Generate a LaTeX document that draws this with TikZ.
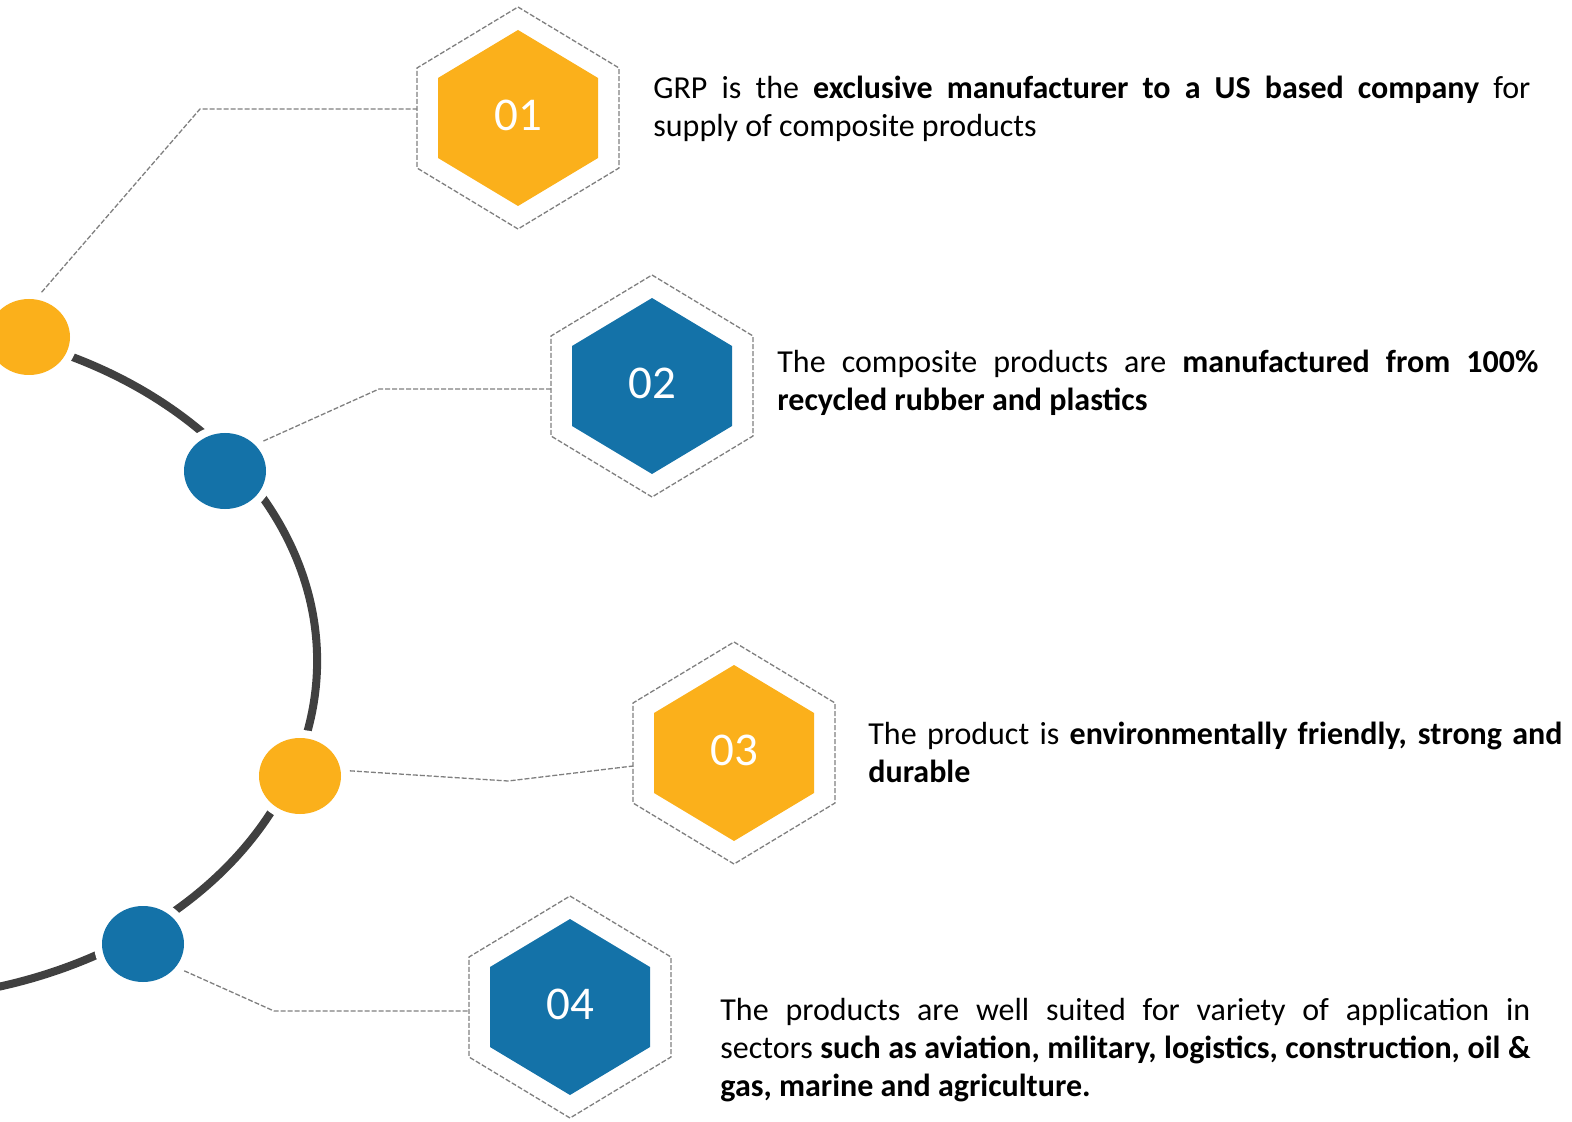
\documentclass[tikz,border=0pt]{standalone}
\usepackage{fontspec}
\setmainfont{Carlito}
\usetikzlibrary{shapes.geometric}

\definecolor{gold}{HTML}{FBB01B}
\definecolor{ocean}{HTML}{1472A8}
\definecolor{track}{HTML}{404040}
\definecolor{guide}{HTML}{7F7F7F}

\begin{document}
\begin{tikzpicture}[x=0.5pt,y=-0.5pt,
  dot/.style={ellipse, inner sep=0pt, minimum width=41pt, minimum height=38pt,
    fill=#1, preaction={draw=white, line width=8pt}},
  leader/.style={draw=guide, line width=0.65pt, dash pattern=on 2.5pt off 1pt, shorten <=4.5pt},
  numtext/.style={inner sep=0pt, text=white, font=\fontsize{23.5pt}{28pt}\selectfont},
  note/.style={anchor=north west, inner sep=0pt, align=justify,
    font=\fontsize{16pt}{19pt}\selectfont}]
\useasboundingbox (0,0) rectangle (1572,1122);

% the bent track
\draw[track, line width=4pt] (-120,661) ++(-72:437 and 338.5) arc[start angle=-72, end angle=82, x radius=437, y radius=338.5];

% dots on the track
\node[dot=gold]  (c1) at (29,337) {};
\node[dot=ocean] (c2) at (225,471) {};
\node[dot=gold]  (c3) at (300,776) {};
\node[dot=ocean] (c4) at (143,944) {};

% numbered hexagons
\foreach \nm/\px/\py/\col in {01/518/118/gold, 02/652/386/ocean, 03/734/753/gold, 04/570/1007/ocean}{
  \draw[draw=guide, line width=0.65pt, dash pattern=on 2.5pt off 1pt] (\px,\py-111) -- (\px+101,\py-50) -- (\px+101,\py+50) -- (\px,\py+111) -- (\px-101,\py+50) -- (\px-101,\py-50) -- cycle;
  \fill[\col] (\px,\py-88) -- (\px+80,\py-40) -- (\px+80,\py+40) -- (\px,\py+88) -- (\px-80,\py+40) -- (\px-80,\py-40) -- cycle;
  \node[numtext] (h\nm) at (\px,\py-3) {\nm};
}

% leaders
\coordinate (k1) at (200,109);
\coordinate (e1) at (417,109);
\coordinate (k2) at (379,389);
\coordinate (e2) at (551,389);
\coordinate (k3) at (508,781);
\coordinate (e3) at (633,766);
\coordinate (k4) at (274,1011);
\coordinate (e4) at (469,1011);
\draw[leader] (c1.80) -- (k1) -- (e1);
\draw[leader] (c2.41) -- (k2) -- (e2);
\draw[leader] (c3.8) -- (k3) -- (e3);
\draw[leader] (c4.-35) -- (k4) -- (e4);

% texts
\node[note, text width=438.5pt] (t1) at (653,76) {GRP is the \textbf{exclusive manufacturer to a US based company} for\linebreak supply of composite products};
\node[note, text width=380.5pt] (t2) at (777,350) {The composite products are \textbf{manufactured from 100\%\linebreak recycled rubber and plastics}};
\node[note, text width=347pt] (t3) at (868,722) {The product is \textbf{environmentally friendly, strong and\linebreak durable}};
\node[note, text width=405pt] (t4) at (720,998) {The products are well suited for variety of application in\linebreak sectors \textbf{such as aviation, military, logistics, construction, oil \&\linebreak gas, marine and agriculture.}};
\end{tikzpicture}
\end{document}
